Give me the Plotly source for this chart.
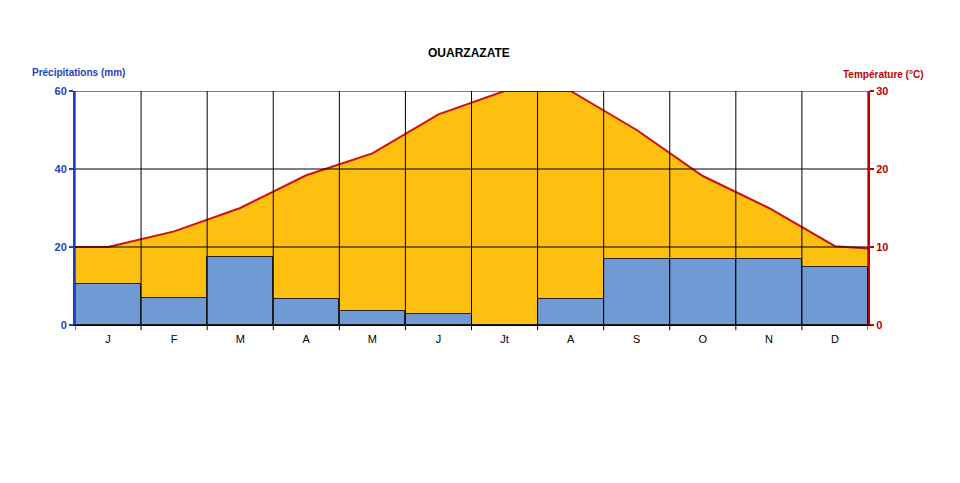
import plotly.graph_objects as go

months = ["J", "F", "M", "A", "M", "J", "Jt", "A", "S", "O", "N", "D"]
precip = [10.5, 7.0, 17.5, 6.7, 3.5, 2.7, 0.0, 6.7, 16.8, 17.0, 17.0, 15.0]
temp = [10.0, 12.0, 15.0, 19.2, 22.0, 27.0, 30.0, 30.0, 25.0, 19.1, 15.0, 10.1]
temp_edges = [10.0, 9.8]  # values at left and right edges of the plot
precip_ticks = [0, 20, 40, 60]
temp_ticks = [0, 10, 20, 30]

BLUE_TXT = "#1f3fbf"
RED_TXT = "#c00000"
ORANGE = "#fdc010"
BAR = "#6f9ad3"
FONT = "Liberation Sans, Arial, sans-serif"

n = len(months)
xc = list(range(n))
xt = [-0.5] + xc + [n - 0.5]
yt = [temp_edges[0]] + temp + [temp_edges[1]]

fig = go.Figure()
# temperature area (primary y, right side)
fig.add_trace(go.Scatter(
    x=xt, y=yt, mode="lines", fill="tozeroy", fillcolor=ORANGE,
    line=dict(color="#d01010", width=2), yaxis="y", hoverinfo="skip"))
# precipitation bars (overlay y2, left side)
fig.add_trace(go.Bar(
    x=xc, y=precip, width=1, marker=dict(color=BAR, line=dict(color="#222222", width=1)),
    yaxis="y2"))

shapes = []
for i in range(n + 1):
    b = i - 0.5
    shapes.append(dict(type="line", xref="x", yref="y domain", x0=b, x1=b, y0=-0.022, y1=1,
                       line=dict(color="black", width=1), layer="above"))
for v in precip_ticks[1:]:
    shapes.append(dict(type="line", xref="x domain", yref="y2", x0=0, x1=1, y0=v, y1=v,
                       line=dict(color="black", width=1), layer="above"))

L, R, T, B = 75, 92, 91, 158
pw, ph = 960 - L - R, 483 - T - B


def px(xp):
    return (xp - L) / pw


def py(yp):
    return (483 - yp - B) / ph


fig.update_layout(
    width=960, height=483,
    margin=dict(l=L, r=R, t=T, b=B),
    paper_bgcolor="white", plot_bgcolor="white",
    showlegend=False,
    bargap=0,
    font=dict(family=FONT, size=11, color="black"),
    xaxis=dict(range=[-0.5, n - 0.5], tickvals=xc, ticktext=months, ticks="",
               showgrid=False, zeroline=False, showline=True, linecolor="black", linewidth=1,
               tickfont=dict(size=11, color="black"), ticklabelstandoff=4),
    yaxis=dict(side="right", range=[0, 30], tickvals=temp_ticks, showgrid=False, zeroline=False,
               showline=True, linecolor=RED_TXT, linewidth=2, ticks="outside", ticklen=4,
               tickcolor=RED_TXT, tickwidth=2,
               tickfont=dict(size=11, color=RED_TXT, family="Liberation Sans", weight="bold")),
    yaxis2=dict(side="left", overlaying="y", range=[0, 60], tickvals=precip_ticks, showgrid=False,
                zeroline=False, showline=True, linecolor=BLUE_TXT, linewidth=2, ticks="outside",
                ticklen=4, tickcolor=BLUE_TXT, tickwidth=2,
                tickfont=dict(size=11, color=BLUE_TXT, family="Liberation Sans", weight="bold")),
    shapes=shapes,
    annotations=[
        dict(text="<b>OUARZAZATE</b>", x=px(469), y=py(53), xref="paper", yref="paper",
             xanchor="center", yanchor="middle",
             showarrow=False, font=dict(size=12, color="black")),
        dict(text="<b>Précipitations (mm)</b>", x=px(78), y=py(72), xref="paper", yref="paper",
             xanchor="center", yanchor="middle",
             showarrow=False, font=dict(size=10, color=BLUE_TXT)),
        dict(text="<b>Température (°C)</b>", x=px(883), y=py(74), xref="paper", yref="paper",
             xanchor="center", yanchor="middle",
             showarrow=False, font=dict(size=10, color=RED_TXT)),
    ],
)

fig.write_html("out.html")
